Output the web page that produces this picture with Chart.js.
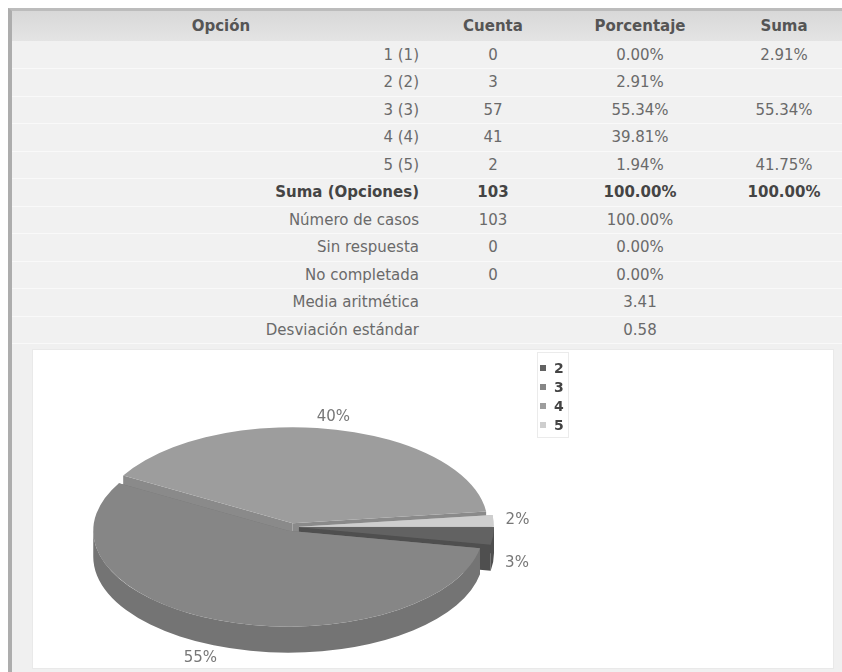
<!DOCTYPE html>
<html lang="es">
<head>
<meta charset="utf-8">
<script src="https://cdn.jsdelivr.net/npm/chart.js@4.4.1/dist/chart.umd.min.js"></script>
<style>
  body { margin: 0; background: #fff; width: 842px; height: 672px; overflow: hidden; font-family: "DejaVu Sans", Verdana, sans-serif; }
  #marco { position: absolute; left: 8px; top: 8px; width: 840px; height: 670px; border-left: 4px solid #adadad; border-top: 3px solid #bcbcbc; background: #f0f0f0; overflow: hidden; }
  table { position: absolute; left: 0; top: 0; width: 832px; border-collapse: collapse; table-layout: fixed; font-size: 15px; color: #6a6a6a; }
  th { height: 30px; padding: 0; font-weight: bold; color: #555; background: linear-gradient(#d8d8d8, #e4e4e4); text-align: center; }
  td { height: 27.5px; padding: 0; text-align: center; border-bottom: 1px solid #f9f9f9; background: #f1f1f1; box-sizing: border-box; }
  td.etiqueta { text-align: right; padding-right: 11px; }
  tr.negrita td { font-weight: bold; color: #444; }
  #panel { position: absolute; left: 21px; top: 339px; width: 800px; height: 318px; background: #fff; box-shadow: 0 0 0 1px #e9e9e9; }
  canvas { position: absolute; left: 0; top: 0; }
</style>
</head>
<body>
<div id="marco">
  <table id="tabla">
    <colgroup><col style="width:418px"><col style="width:126px"><col style="width:168px"><col style="width:120px"></colgroup>
    <thead><tr><th>Opción</th><th>Cuenta</th><th>Porcentaje</th><th>Suma</th></tr></thead>
    <tbody></tbody>
  </table>
  <div id="panel"><canvas id="pastel" width="800" height="318"></canvas></div>
</div>
<script>
// Datos de la tabla
const opciones = ['1 (1)', '2 (2)', '3 (3)', '4 (4)', '5 (5)'];
const cuentas = ['0', '3', '57', '41', '2'];
const porcentajes = ['0.00%', '2.91%', '55.34%', '39.81%', '1.94%'];
const sumas = ['2.91%', '', '55.34%', '', '41.75%'];

const resumenEtiquetas = ['Suma (Opciones)', 'Número de casos', 'Sin respuesta', 'No completada', 'Media aritmética', 'Desviación estándar'];
const resumenCuentas = ['103', '103', '0', '0', '', ''];
const resumenPorcentajes = ['100.00%', '100.00%', '0.00%', '0.00%', '3.41', '0.58'];
const resumenSumas = ['100.00%', '', '', '', '', ''];

// Datos del gráfico
const etiquetasPastel = ['2', '3', '4', '5'];
const valoresPastel = [3, 57, 41, 2];

const colores = {
    caras: ['#626262', '#868686', '#9d9d9d', '#cecece'],
    lados: ['#4f4f4f', '#747474', '#8a8a8a', '#b4b4b4'],
    texto: '#777',
    leyenda: '#444'
};

const APLASTE = 0.492;   // relación alto/ancho de la elipse
const PROF = 26;         // grosor del pastel

// Construir filas de la tabla
const cuerpo = document.querySelector('#tabla tbody');
const agregarFila = (celdas, clase) => {
    const tr = document.createElement('tr');
    if (clase) tr.className = clase;
    celdas.forEach((texto, i) => {
        const td = document.createElement('td');
        if (i === 0) td.className = 'etiqueta';
        td.textContent = texto;
        tr.appendChild(td);
    });
    cuerpo.appendChild(tr);
};
opciones.forEach((op, i) => agregarFila([op, cuentas[i], porcentajes[i], sumas[i]]));
resumenEtiquetas.forEach((et, i) => agregarFila([et, resumenCuentas[i], resumenPorcentajes[i], resumenSumas[i]], i === 0 ? 'negrita' : ''));

// Pastel 3D dibujado con los arcos que calcula Chart.js
const rebanadasDe = (chart) => {
    const meta = chart.getDatasetMeta(0);
    return meta.data.map((arco, i) => {
        const p = arco.getProps(['x', 'y', 'startAngle', 'endAngle', 'outerRadius'], true);
        const medio = (p.startAngle + p.endAngle) / 2;
        const off = arco.options.offset || 0;
        return {
            i, medio, ini: p.startAngle, fin: p.endAngle,
            x: p.x + Math.cos(medio) * off,
            y: p.y + Math.sin(medio) * off * APLASTE,
            rx: p.outerRadius,
            ry: p.outerRadius * APLASTE
        };
    });
};

const pastel3D = {
    id: 'pastel3D',
    beforeDatasetsDraw(chart) {
        const ctx = chart.ctx;
        const rebanadas = rebanadasDe(chart);
        ctx.save();
        // paredes y lados, de atrás hacia adelante
        [...rebanadas].sort((a, b) => Math.sin(a.medio) - Math.sin(b.medio)).forEach(r => {
            ctx.fillStyle = colores.lados[r.i];
            [r.ini, r.fin].forEach(a => {
                const ex = r.x + r.rx * Math.cos(a), ey = r.y + r.ry * Math.sin(a);
                ctx.beginPath();
                ctx.moveTo(r.x, r.y);
                ctx.lineTo(ex, ey);
                ctx.lineTo(ex, ey + PROF);
                ctx.lineTo(r.x, r.y + PROF);
                ctx.closePath();
                ctx.fill();
            });
            const a = Math.max(r.ini, 0), b = Math.min(r.fin, Math.PI);
            if (b > a) {
                ctx.beginPath();
                ctx.ellipse(r.x, r.y, r.rx, r.ry, 0, a, b, false);
                ctx.ellipse(r.x, r.y + PROF, r.rx, r.ry, 0, b, a, true);
                ctx.closePath();
                ctx.fill();
            }
        });
        // caras superiores
        rebanadas.forEach(r => {
            ctx.fillStyle = colores.caras[r.i];
            ctx.beginPath();
            ctx.moveTo(r.x, r.y);
            ctx.ellipse(r.x, r.y, r.rx, r.ry, 0, r.ini, r.fin, false);
            ctx.closePath();
            ctx.fill();
        });
        ctx.restore();
        return false;
    },
    afterDraw(chart) {
        const ctx = chart.ctx;
        const datos = chart.data.datasets[0].data;
        const total = datos.reduce((a, b) => a + b, 0);
        ctx.save();
        // etiquetas de porcentaje
        ctx.font = '15px "DejaVu Sans", Verdana, sans-serif';
        ctx.fillStyle = colores.texto;
        ctx.textBaseline = 'middle';
        rebanadasDe(chart).forEach(r => {
            const c = Math.cos(r.medio), s = Math.sin(r.medio);
            const lx = r.x + (r.rx + 12) * c;
            const ly = r.y + (r.ry + 12) * s + (s > 0 ? PROF : 0);
            ctx.textAlign = c > 0.2 ? 'left' : (c < -0.2 ? 'right' : 'center');
            ctx.fillText(Math.round(datos[r.i] / total * 100) + '%', lx, ly);
        });
        // leyenda
        ctx.fillStyle = '#fff';
        ctx.strokeStyle = '#ebebeb';
        ctx.lineWidth = 1;
        ctx.fillRect(504.5, 2.5, 31, 85);
        ctx.strokeRect(504.5, 2.5, 31, 85);
        ctx.font = 'bold 14px "DejaVu Sans", Verdana, sans-serif';
        ctx.textAlign = 'left';
        chart.data.labels.forEach((et, i) => {
            const y = 18 + i * 19;
            ctx.fillStyle = colores.caras[i];
            ctx.fillRect(507, y - 3, 6, 6);
            ctx.fillStyle = colores.leyenda;
            ctx.fillText(et, 521, y + 1);
        });
        ctx.restore();
    }
};

new Chart(document.getElementById('pastel'), {
    type: 'pie',
    data: {
        labels: etiquetasPastel,
        datasets: [{
            data: valoresPastel,
            backgroundColor: colores.caras,
            borderWidth: 0,
            offset: [8, 8, 8, 8],
            radius: 195
        }]
    },
    options: {
        responsive: false,
        animation: false,
        rotation: 90,
        layout: { padding: { left: 0, right: 284, top: 36, bottom: 0 } },
        plugins: {
            legend: { display: false },
            tooltip: { enabled: false }
        }
    },
    plugins: [pastel3D]
});
</script>
</body>
</html>
